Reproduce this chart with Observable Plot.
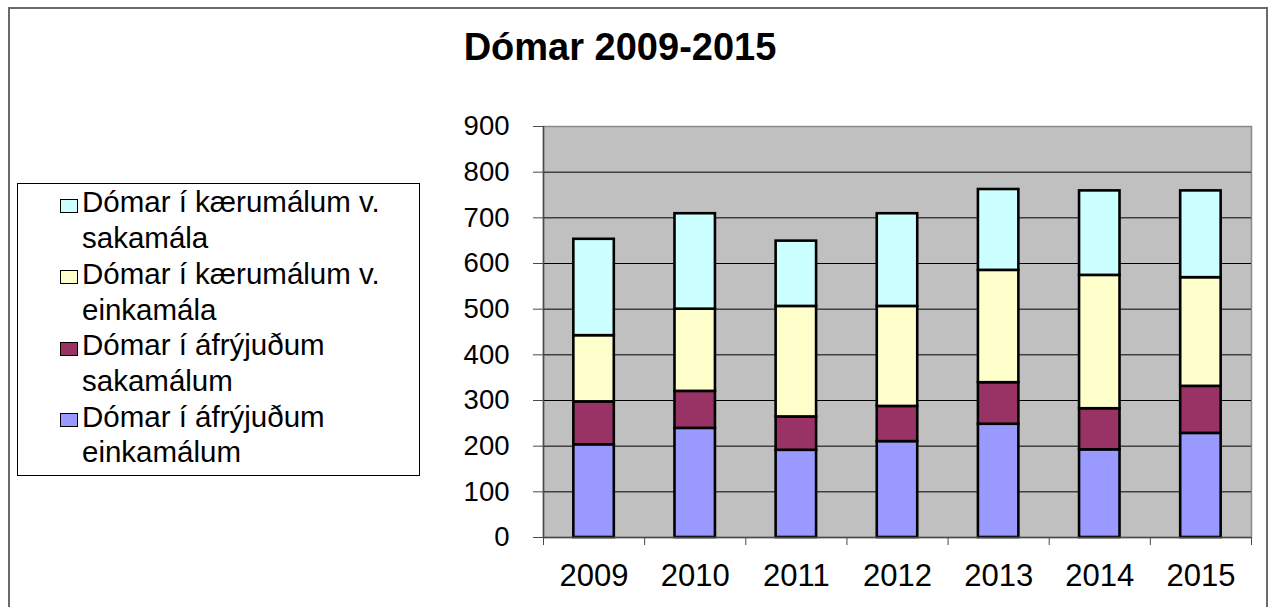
<!DOCTYPE html>
<html>
<head>
<meta charset="utf-8">
<script src="https://cdn.jsdelivr.net/npm/d3@7"></script>
<script src="https://cdn.jsdelivr.net/npm/@observablehq/plot@0.6"></script>
<style>
  html, body { margin: 0; padding: 0; background: #fff; width: 1276px; height: 607px; overflow: hidden; }
  body { position: relative; font-family: "Liberation Sans", Arial, sans-serif; }
  #border { position: absolute; left: 8px; top: 7px; width: 1260px; height: 620px; border: 2px solid #6a6a6a; box-sizing: border-box; }
  #chart { position: absolute; left: 0; top: 0; }
  #title { position: absolute; left: 0; width: 1240px; top: 29px; text-align: center; font-weight: bold; font-size: 38px; line-height: 36px; color: #000; }
  #legend { position: absolute; left: 17px; top: 183px; width: 403px; height: 293px; border: 1px solid #000; box-sizing: border-box; background: #fff; }
  .item { position: absolute; left: 64px; font-size: 29.5px; line-height: 35.7px; color: #000; white-space: nowrap; }
  .sw { position: absolute; left: 42px; width: 18px; height: 14px; border: 1.5px solid #000; box-sizing: border-box; }
</style>
</head>
<body>
<div id="border"></div>
<div id="chart"></div>
<div id="title"></div>
<div id="legend"></div>
<script>
// ---- data ----
const years = ["2009", "2010", "2011", "2012", "2013", "2014", "2015"];
const seriesNames = [
  "Dómar í áfrýjuðum einkamálum",
  "Dómar í áfrýjuðum sakamálum",
  "Dómar í kærumálum v. einkamála",
  "Dómar í kærumálum v. sakamála"
];
const legendLines = [
  ["Dómar í áfrýjuðum", "einkamálum"],
  ["Dómar í áfrýjuðum", "sakamálum"],
  ["Dómar í kærumálum v.", "einkamála"],
  ["Dómar í kærumálum v.", "sakamála"]
];
const seriesColors = ["#9999ff", "#993366", "#ffffcc", "#ccffff"];
const appealCivil   = [203, 239, 191, 210, 248, 192, 228];
const appealCrim    = [94, 81, 73, 77, 91, 90, 103];
const complaintCivil = [145, 180, 242, 219, 246, 292, 238];
const complaintCrim  = [211, 209, 143, 203, 177, 185, 190];
const yTicks = [0, 100, 200, 300, 400, 500, 600, 700, 800, 900];
const gridTicks = [100, 200, 300, 400, 500, 600, 700, 800];
const titleText = "Dómar 2009-2015";

const seriesValues = [appealCivil, appealCrim, complaintCivil, complaintCrim];
const rows = [];
years.forEach((year, i) => {
  seriesNames.forEach((s, k) => rows.push({i, year, series: s, value: seriesValues[k][i]}));
});
const catBounds = d3.range(years.length + 1);
const catCenters = years.map((_, i) => i + 0.5);

const chart = Plot.plot({
  width: 1276,
  height: 607,
  marginLeft: 543,
  marginRight: 25,
  marginTop: 126,
  marginBottom: 70,
  style: { fontFamily: "'Liberation Sans', Arial, sans-serif", fontSize: "27px", color: "#000", background: "transparent", overflow: "visible" },
  x: { domain: [0, years.length] },
  y: { domain: [0, 900] },
  color: { domain: seriesNames, range: seriesColors },
  marks: [
    Plot.frame({ fill: "#c0c0c0", stroke: "#8a8a8a", strokeWidth: 1.5 }),
    Plot.ruleY(gridTicks, { stroke: "#000", strokeWidth: 1 }),
    Plot.rectY(rows, {
      x1: d => d.i + 0.3,
      x2: d => d.i + 0.7,
      y: "value",
      fill: "series",
      order: seriesNames,
      stroke: "#000",
      strokeWidth: 2.6
    }),
    Plot.ruleY([0], { stroke: "#4a4a4a", strokeWidth: 1.5 }),
    Plot.ruleX([0], { stroke: "#4a4a4a", strokeWidth: 1.5 }),
    Plot.axisY(yTicks, { tickSize: 10, tickPadding: 24, fontSize: 27.5, stroke: "#4a4a4a", label: null }),
    Plot.axisX(catBounds, { tickSize: 8, tickFormat: () => "", stroke: "#4a4a4a", label: null }),
    Plot.axisX(catCenters, { tickSize: 0, tickPadding: 26, fontSize: 31, tickFormat: d => years[Math.floor(d)], label: null })
  ]
});
document.getElementById("chart").appendChild(chart);
document.getElementById("title").textContent = titleText;

// legend (top to bottom = reverse stack order)
const legend = document.getElementById("legend");
const order = [3, 2, 1, 0];
const lineH = 35.7;
const firstTop = 0.4;
order.forEach((k, j) => {
  const top = firstTop + j * 2 * lineH;
  const sw = document.createElement("div");
  sw.className = "sw";
  sw.style.top = (top + 14.5) + "px";
  sw.style.background = seriesColors[k];
  legend.appendChild(sw);
  const t = document.createElement("div");
  t.className = "item";
  t.style.top = top + "px";
  t.innerHTML = legendLines[k].join("<br>");
  legend.appendChild(t);
});
</script>
</body>
</html>
